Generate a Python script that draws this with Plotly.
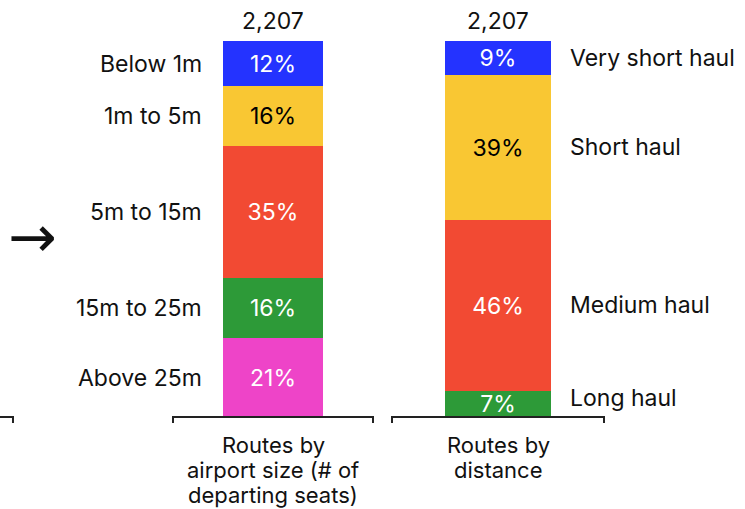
import plotly.graph_objects as go

# ---- data ----
categories = ["Routes by<br>airport size (# of<br>departing seats)", "Routes by<br>distance"]
totals = [2207, 2207]
size_labels = ["Below 1m", "1m to 5m", "5m to 15m", "15m to 25m", "Above 25m"]
size_pct = [12, 16, 35, 16, 21]
dist_labels = ["Very short haul", "Short haul", "Medium haul", "Long haul"]
dist_pct = [9, 39, 46, 7]

# ---- styles ----
seg_colors = ["#2433FF", "#F9C733", "#F24A33", "#2D9A38", "#EE44C8"]
seg_text_colors = ["white", "black", "white", "white", "white"]
bar_widths = [100 / 225, 106 / 225]
FONT = "Inter"
FS = 23

stacks = [(size_labels, size_pct), (dist_labels, dist_pct)]

fig = go.Figure()
annotations = []
shapes = []

for xi, (labels, pcts) in enumerate(stacks):
    total = sum(pcts)
    w = bar_widths[xi]
    n = len(pcts)
    cum_top = 100.0
    mids = []
    for i in range(n):
        h = pcts[i] / total * 100
        mids.append(cum_top - h / 2)
        cum_top -= h
    for i in reversed(range(n)):
        fig.add_trace(go.Bar(
            x=[xi], y=[pcts[i]], width=[w],
            marker=dict(color=seg_colors[i], line=dict(width=0)),
            text=[f"{pcts[i]}%"], textposition="inside", insidetextanchor="middle",
            textangle=0,
            textfont=dict(family=FONT, size=FS, color=seg_text_colors[i]),
            hoverinfo="skip", showlegend=False,
        ))
    for i in range(n):
        if xi == 0:
            annotations.append(dict(x=xi - w / 2, y=mids[i], xref="x", yref="y",
                                    text=labels[i], showarrow=False, xanchor="right",
                                    xshift=-19, font=dict(family=FONT, size=FS, color="#111")))
        else:
            ys = 6 if i == n - 1 else 0
            annotations.append(dict(x=xi + w / 2, y=mids[i], xref="x", yref="y",
                                    text=labels[i], showarrow=False, xanchor="left",
                                    xshift=17, yshift=ys, font=dict(family=FONT, size=FS, color="#111")))
    annotations.append(dict(x=xi, y=100, xref="x", yref="y", text=f"{totals[xi]:,}",
                            showarrow=False, yanchor="bottom", yshift=4,
                            font=dict(family=FONT, size=FS, color="#111")))
    for li, line in enumerate(categories[xi].split("<br>")):
        annotations.append(dict(x=xi, y=0, xref="x", yref="y", text=line,
                                showarrow=False, yanchor="middle", yshift=-28 - 25 * li,
                                font=dict(family=FONT, size=22, color="#111")))
    shapes.append(dict(type="path", xref="x", yref="y",
                       path=f"M {xi - w},-1.6 L {xi - w},0 L {xi + w},0 L {xi + w},-1.6",
                       line=dict(color="#222", width=2)))

# partial bracket of cut-off panel at left
shapes.append(dict(type="path", xref="x", yref="y",
                   path="M -1.25,0 L -1.1556,0 L -1.1556,-1.6",
                   line=dict(color="#222", width=2)))

# arrow
annotations.append(dict(x=-1.071, y=48, xref="x", yref="y", text="→", showarrow=False,
                        font=dict(family="DejaVu Sans", size=58, color="#111")))

fig.update_layout(
    width=745, height=509,
    barmode="stack", barnorm="percent", bargap=0,
    margin=dict(l=0, r=0, t=0, b=0),
    paper_bgcolor="white", plot_bgcolor="white",
    xaxis=dict(range=[-273 / 225, 1 + 247 / 225], visible=False, fixedrange=True),
    yaxis=dict(range=[-92 / 3.76, 100 + 41 / 3.76], visible=False, fixedrange=True),
    uniformtext=dict(minsize=FS, mode="show"),
    annotations=annotations, shapes=shapes,
    showlegend=False,
)

fig.write_html("out.html", config={"displayModeBar": False},
               post_script="document.body.style.margin='0';document.body.style.overflow='hidden';")
